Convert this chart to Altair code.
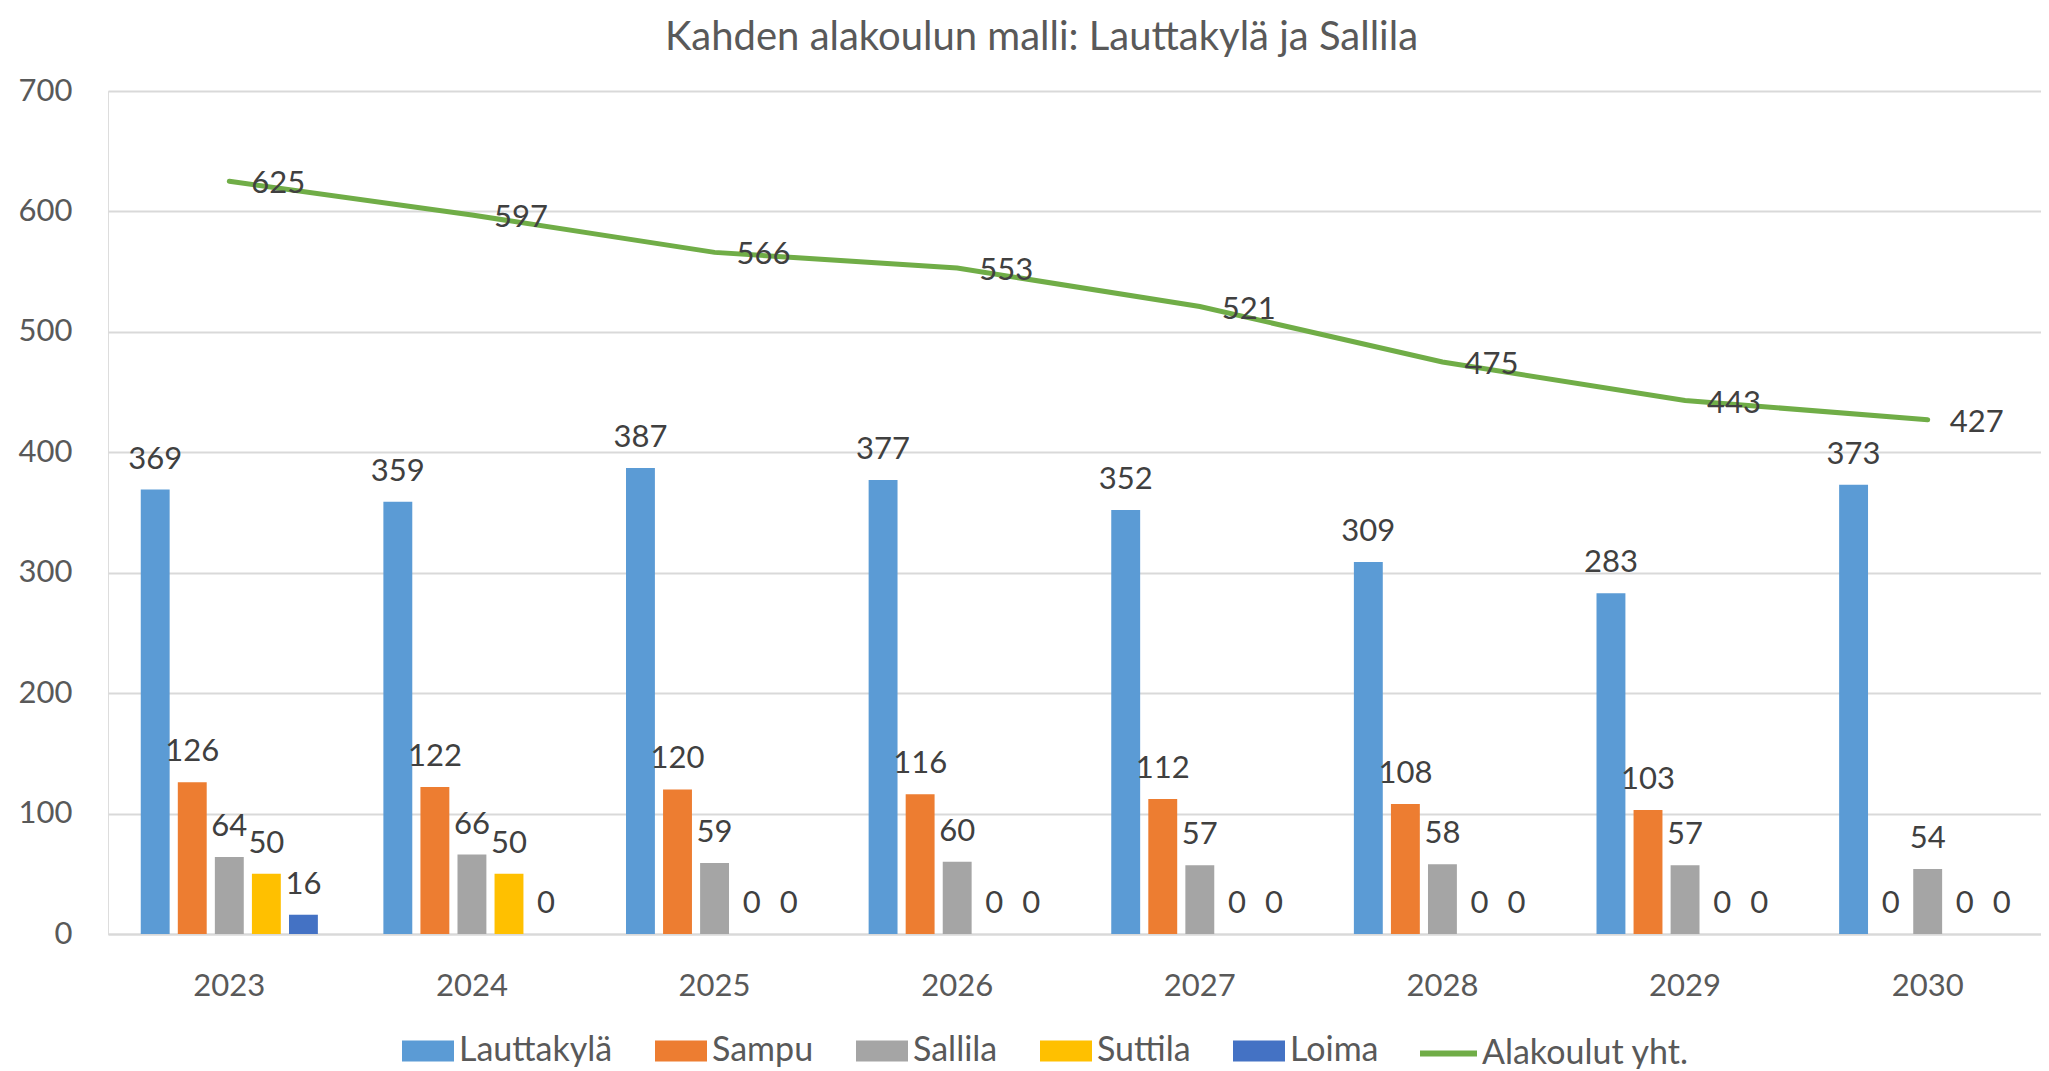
import altair as alt
import pandas as pd

title_text = "Kahden alakoulun malli: Lauttakylä ja Sallila"
years = ["2023", "2024", "2025", "2026", "2027", "2028", "2029", "2030"]
schools = ["Lauttakylä", "Sampu", "Sallila", "Suttila", "Loima"]
lauttakyla = [369, 359, 387, 377, 352, 309, 283, 373]
sampu = [126, 122, 120, 116, 112, 108, 103, 0]
sallila = [64, 66, 59, 60, 57, 58, 57, 54]
suttila = [50, 50, 0, 0, 0, 0, 0, 0]
loima = [16, 0, 0, 0, 0, 0, 0, 0]
total_name = "Alakoulut yht."
total = [625, 597, 566, 553, 521, 475, 443, 427]
y_ticks = [0, 100, 200, 300, 400, 500, 600, 700]

bar_colors = ["#5B9BD5", "#ED7D31", "#A5A5A5", "#FFC000", "#4472C4"]
line_color = "#70AD47"
FONT = "Lato"
LABEL_GRAY = "#595959"
DATA_GRAY = "#404040"
GRID = "#D9D9D9"

rows = []
for s, vals in zip(schools, [lauttakyla, sampu, sallila, suttila, loima]):
    for yv, v in zip(years, vals):
        rows.append({"vuosi": yv, "koulu": s, "arvo": v})
bars_df = pd.DataFrame(rows)
line_df = pd.DataFrame({"vuosi": years, "arvo": total, "sarja": [total_name] * len(years)})

x_bar = alt.X(
    "vuosi:N", sort=years,
    scale=alt.Scale(paddingInner=0.27, paddingOuter=0.135),
    axis=alt.Axis(title=None, labelAngle=0, labelFontSize=31, labelColor=LABEL_GRAY,
                  labelFont=FONT, labelPadding=37, ticks=False, domainColor=GRID,
                  domainWidth=2, grid=False),
)
y_enc = alt.Y(
    "arvo:Q", scale=alt.Scale(domain=[0, 700], nice=False),
    axis=alt.Axis(title=None, values=y_ticks, ticks=False, domain=False, gridColor=GRID,
                  gridWidth=2, labelFontSize=31, labelColor=LABEL_GRAY, labelFont=FONT,
                  labelPadding=36),
)
xoff = alt.XOffset("koulu:N", sort=schools, scale=alt.Scale(paddingInner=0.22, paddingOuter=0))

color = alt.Color(
    "koulu:N", sort=schools,
    scale=alt.Scale(domain=schools, range=bar_colors),
    legend=alt.Legend(
        title=None, orient="none", legendX=294, legendY=934, direction="horizontal",
        symbolType="M-1,-0.4H1V0.4H-1Z", symbolSize=2704, symbolStrokeWidth=0,
        labelFontSize=34, labelFont=FONT, labelColor=LABEL_GRAY, labelOffset=5,
        labelLimit=400, columnPadding=42, padding=0, symbolOpacity=1,
    ),
)

bars = alt.Chart(bars_df).mark_bar().encode(x=x_bar, y=y_enc, xOffset=xoff, color=color)

bar_text = alt.Chart(bars_df).mark_text(
    baseline="alphabetic", dy=-21, fontSize=31, color=DATA_GRAY, font=FONT
).encode(
    x=alt.X("vuosi:N", sort=years),
    y=alt.Y("arvo:Q"),
    xOffset=alt.XOffset("koulu:N", sort=schools),
    text=alt.Text("arvo:Q"),
)

line = alt.Chart(line_df).mark_line(strokeWidth=5, strokeCap="round").encode(
    x=alt.X("vuosi:N", sort=years, bandPosition=0.5),
    y=alt.Y("arvo:Q"),
    stroke=alt.Stroke(
        "sarja:N", scale=alt.Scale(domain=[total_name], range=[line_color]),
        legend=alt.Legend(
            title=None, orient="none", legendX=1309, legendY=931, direction="horizontal",
            symbolType="stroke", symbolSize=3249, symbolStrokeWidth=6,
            labelFontSize=34, labelFont=FONT, labelColor=LABEL_GRAY, labelOffset=2,
            labelLimit=400, padding=0,
        ),
    ),
)

line_text = alt.Chart(line_df).mark_text(
    align="left", baseline="middle", dx=22, dy=3, fontSize=31, color=DATA_GRAY, font=FONT
).encode(
    x=alt.X("vuosi:N", sort=years, bandPosition=0.5),
    y=alt.Y("arvo:Q"),
    text=alt.Text("arvo:Q"),
)

chart = alt.layer(bars, bar_text, line, line_text).properties(
    width=1941,
    height=843,
    title=alt.TitleParams(
        text=title_text, fontSize=40, font=FONT, color=LABEL_GRAY, fontWeight="normal",
        anchor="middle", offset=17, dx=-37,
    ),
    autosize=alt.AutoSizeParams(type="none"),
    padding={"left": 100, "top": 83, "right": -8, "bottom": 135},
).configure_view(stroke=None).configure(background="white")

chart.save("out.html", embed_options={"renderer": "svg", "actions": False})
